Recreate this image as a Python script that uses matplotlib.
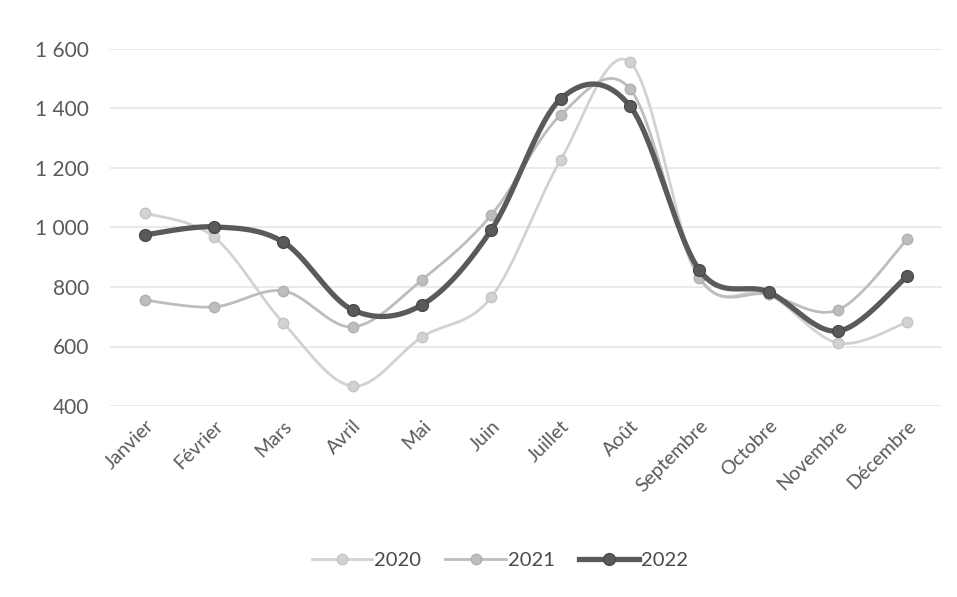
import numpy as np
import matplotlib
matplotlib.use("Agg")
import matplotlib.pyplot as plt
from matplotlib.lines import Line2D

months = ["Janvier", "Février", "Mars", "Avril", "Mai", "Juin", "Juillet",
          "Août", "Septembre", "Octobre", "Novembre", "Décembre"]
v2020 = [1049, 968, 679, 467, 632, 766, 1227, 1556, 835, 775, 612, 682]
v2021 = [756, 733, 787, 666, 824, 1042, 1378, 1466, 830, 775, 723, 961]
v2022 = [975, 1002, 951, 723, 740, 992, 1432, 1408, 857, 783, 652, 837]
yticks = [400, 600, 800, 1000, 1200, 1400, 1600]
ytick_labels = ["400", "600", "800", "1 000", "1 200", "1 400", "1 600"]


def smooth(x, y, n=30):
    """Catmull-Rom style Bezier smoothing through every point."""
    x = np.asarray(x, float)
    y = np.asarray(y, float)
    px = np.concatenate([[x[0]], x, [x[-1]]])
    py = np.concatenate([[y[0]], y, [y[-1]]])
    xs, ys = [], []
    t = np.linspace(0, 1, n)
    for i in range(1, len(px) - 2):
        p0 = np.array([px[i - 1], py[i - 1]])
        p1 = np.array([px[i], py[i]])
        p2 = np.array([px[i + 1], py[i + 1]])
        p3 = np.array([px[i + 2], py[i + 2]])
        c1 = p1 + (p2 - p0) / 6.0
        c2 = p2 - (p3 - p1) / 6.0
        b = ((1 - t) ** 3)[:, None] * p1 + (3 * (1 - t) ** 2 * t)[:, None] * c1 \
            + (3 * (1 - t) * t ** 2)[:, None] * c2 + (t ** 3)[:, None] * p2
        xs.append(b[:, 0])
        ys.append(b[:, 1])
    return np.concatenate(xs), np.concatenate(ys)


plt.rcParams["font.family"] = ["Lato", "DejaVu Sans"]

fig = plt.figure(figsize=(9.57, 5.97), dpi=100)
ax = fig.add_axes([110 / 957, (597 - 406) / 597, (942 - 110) / 957, (406 - 49) / 597])

x = np.arange(len(months))
styles = [
    ("2020", v2020, "#d2d2d2", "#c4c4c4", 2.0, 7.5, 2),
    ("2021", v2021, "#bdbdbd", "#b0b0b0", 2.0, 7.5, 3),
    ("2022", v2022, "#5a5a5a", "#4a4a4a", 3.8, 8.5, 4),
]
handles = []
for name, vals, col, edge, lw, ms, z in styles:
    sx, sy = smooth(x, vals)
    ax.plot(sx, sy, color=col, lw=lw, zorder=z, solid_capstyle="round")
    ax.plot(x, vals, "o", ms=ms, color=col, mec=edge, mew=1.0, zorder=z)
    handles.append(Line2D([0], [0], color=col, lw=lw, marker="o", ms=ms,
                          mfc=col, mec=edge, label=name))

ax.set_xlim(-0.5, 11.5)
ax.set_ylim(400, 1600)
ax.set_yticks(yticks)
ax.set_yticklabels(ytick_labels)
ax.set_xticks(x)
ax.set_xticklabels(months, rotation=45, ha="right", rotation_mode="anchor")
ax.yaxis.grid(True, color="#e6e6e6", lw=1.2)
ax.set_axisbelow(True)
for s in ax.spines.values():
    s.set_visible(False)
ax.tick_params(axis="both", length=0, colors="#5a5a5a", labelsize=14)
ax.tick_params(axis="y", labelsize=15, pad=15)
ax.tick_params(axis="x", pad=8)

fig.legend(handles=handles, loc="center", bbox_to_anchor=(500 / 957, 1 - 560 / 597),
           ncol=3, frameon=False, fontsize=14.5, handlelength=3.0,
           columnspacing=1.2, handletextpad=0.1, labelcolor="#4a4a4a")

fig.savefig("out.png", dpi=100, facecolor="white")
